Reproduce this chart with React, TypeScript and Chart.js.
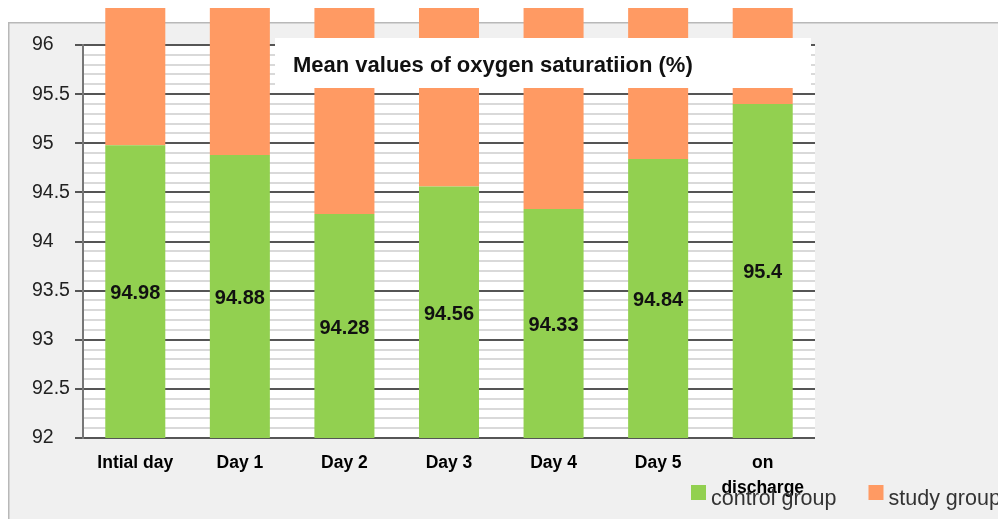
import React, { useEffect, useRef } from 'react';
import { Chart, registerables } from 'chart.js';

Chart.register(...registerables);

// ---- data ----
const categories: (string | string[])[] = ['Intial day', 'Day 1', 'Day 2', 'Day 3', 'Day 4', 'Day 5', ['on', 'discharge']];
const controlGroup = [94.98, 94.88, 94.28, 94.56, 94.33, 94.84, 95.4];
// study group values are hidden (bars run past the top of the axis); estimated
const studyGroup = [95.2, 95.6, 96.1, 96.5, 96.9, 97.3, 97.8];
const seriesNames = ['control group', 'study group'];
const seriesColors = ['#92d050', '#ff9a63'];
const chartTitle = 'Mean values of oxygen saturatiion (%)';
const yMin = 92;
const yMax = 96;
const yMajorStep = 0.5;
const yMinorStep = 0.1;

const FONT = '"Liberation Sans", Arial, sans-serif';

const isMajor = (v: number) => Math.abs(v / yMajorStep - Math.round(v / yMajorStep)) < 1e-6;

const decorPlugin = {
  id: 'decor',
  beforeDraw(chart: any) {
    const { ctx, chartArea: a, width, height } = chart;
    ctx.save();
    ctx.fillStyle = '#ffffff';
    ctx.fillRect(0, 0, width, height);
    ctx.fillStyle = '#f0f0f0';
    ctx.fillRect(8, 22, width - 8, height - 22);
    ctx.strokeStyle = '#b8b8b8';
    ctx.lineWidth = 1.5;
    ctx.beginPath();
    ctx.moveTo(8.75, height);
    ctx.lineTo(8.75, 22.75);
    ctx.lineTo(width, 22.75);
    ctx.stroke();
    ctx.fillStyle = '#ffffff';
    ctx.fillRect(a.left, a.top, a.right - a.left, a.bottom - a.top);
    ctx.restore();
  },
  afterDatasetsDraw(chart: any) {
    const { ctx } = chart;
    const y = chart.scales.y;
    const meta = chart.getDatasetMeta(0);
    const values = chart.data.datasets[0].data as number[];
    ctx.save();
    ctx.font = `bold 20px ${FONT}`;
    ctx.fillStyle = '#111';
    ctx.textAlign = 'center';
    ctx.textBaseline = 'middle';
    meta.data.forEach((el: any, i: number) => {
      const v = values[i];
      const yc = (y.getPixelForValue(v) + y.getPixelForValue(y.min)) / 2 + 2;
      ctx.fillText(String(v), el.x, yc);
    });
    // title box over the plot
    ctx.fillStyle = '#ffffff';
    ctx.fillRect(275, 38, 536, 50);
    ctx.fillStyle = '#111';
    ctx.font = `bold 22px ${FONT}`;
    ctx.textAlign = 'left';
    ctx.textBaseline = 'alphabetic';
    ctx.fillText(chartTitle, 293, 72);
    ctx.restore();
  },
  afterDraw(chart: any) {
    const { ctx } = chart;
    ctx.save();
    ctx.font = `21.5px ${FONT}`;
    ctx.textAlign = 'left';
    ctx.textBaseline = 'alphabetic';
    let x = 691;
    chart.data.datasets.forEach((ds: any) => {
      ctx.fillStyle = ds.backgroundColor;
      ctx.fillRect(x, 485, 15, 15);
      ctx.fillStyle = '#333';
      ctx.fillText(ds.label, x + 20, 505);
      x += 20 + ctx.measureText(ds.label).width + 32;
    });
    ctx.restore();
  },
};

export default function App() {
  const ref = useRef<HTMLCanvasElement>(null);
  useEffect(() => {
    if (!ref.current) return;
    const chart = new Chart(ref.current, {
      type: 'bar',
      data: {
        labels: categories as any,
        datasets: [
          {
            label: seriesNames[0],
            data: controlGroup,
            backgroundColor: seriesColors[0],
            borderWidth: 0,
            barPercentage: 0.574,
            categoryPercentage: 1,
            clip: { left: 0, top: 37, right: 0, bottom: 0 } as any,
          },
          {
            label: seriesNames[1],
            data: studyGroup,
            backgroundColor: seriesColors[1],
            borderWidth: 0,
            barPercentage: 0.574,
            categoryPercentage: 1,
            clip: { left: 0, top: 37, right: 0, bottom: 0 } as any,
          },
        ],
      },
      options: {
        responsive: false,
        animation: false,
        devicePixelRatio: 1,
        layout: { padding: { left: 32, top: 45, right: 183, bottom: 0 } },
        plugins: {
          legend: { display: false },
          title: { display: false },
          tooltip: { enabled: false },
        },
        scales: {
          x: {
            stacked: true,
            afterFit: (s: any) => { s.height = 81; },
            grid: { display: false, drawTicks: false },
            border: { display: false },
            ticks: {
              color: '#000',
              autoSkip: false,
              maxRotation: 0,
              padding: 13,
              font: { family: FONT, size: 17.5, weight: 'bold', lineHeight: '25px' } as any,
            },
          },
          y: {
            stacked: true,
            min: yMin,
            max: yMax,
            afterFit: (s: any) => { s.width = 51; },
            border: { display: true, color: '#777', width: 2 },
            grid: {
              color: (c: any) => (isMajor(c.tick.value) ? '#555' : '#d9d9d9'),
              tickColor: (c: any) => (isMajor(c.tick.value) ? '#555' : 'rgba(0,0,0,0)'),
              lineWidth: 2,
              tickLength: 8,
              drawTicks: true,
            },
            ticks: {
              stepSize: yMinorStep,
              autoSkip: false,
              crossAlign: 'far',
              color: '#222',
              font: { family: FONT, size: 19.5 },
              callback: (v: any) => (isMajor(Number(v)) ? String(Math.round(Number(v) * 10) / 10) : ''),
            },
          },
        },
      },
      plugins: [decorPlugin],
    } as any);
    return () => chart.destroy();
  }, []);
  return (
    <div style={{ position: 'fixed', left: 0, top: 0, width: 998, height: 519 }}>
      <canvas ref={ref} width={998} height={519} style={{ display: 'block', width: 998, height: 519 }} />
    </div>
  );
}
